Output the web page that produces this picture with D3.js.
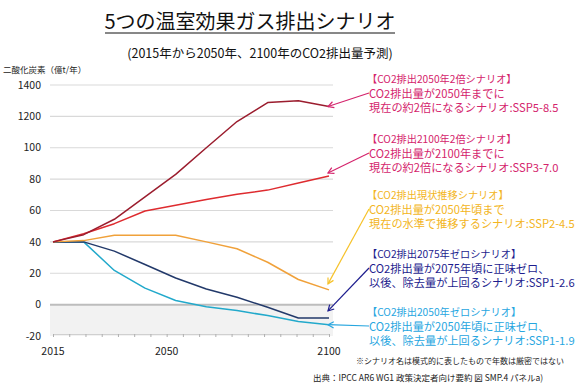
<!DOCTYPE html>
<html>
<head>
<meta charset="utf-8">
<script src="https://cdn.jsdelivr.net/npm/d3@7"></script>
<style>
  body { margin: 0; background: #fff; }
  text { font-family: "Noto Sans CJK JP", "Noto Sans", sans-serif; }
</style>
</head>
<body>
<div class="container"></div>
<script>
var width = 579;
var height = 385;

// data
var steps = ["2015", "2020", "2030", "2040", "2050", "2060", "2070", "2080", "2090", "2100"];
var ssp585 = [40, 44.6, 54.4, 68.7, 83, 100, 116.7, 128.8, 130, 126.3];
var ssp370 = [40, 45.2, 51.6, 59.7, 63.4, 67, 70.4, 73, 77.5, 82];
var ssp245 = [40, 40.8, 44.2, 44.2, 44.2, 40, 35.6, 27, 16, 9.4];
var ssp126 = [40, 40, 34.1, 25.6, 17, 10, 4.7, -1.7, -8.5, -8.5];
var ssp119 = [40, 40, 21.8, 10.5, 2.6, -1.3, -3.8, -7, -10.7, -12.8];

var yTicks = [-20, 0, 20, 40, 60, 80, 100, 120, 140];
var yTickLabels = ["-20", "0", "20", "40", "60", "80", "100", "1200", "1400"];
var xTicks = d3.range(2015, 2101, 5);
var xLabels = [2015, 2050, 2100];

var headers = ["【CO2排出2050年2倍シナリオ】", "【CO2排出2100年2倍シナリオ】", "【CO2排出現状推移シナリオ】",
  "【CO2排出2075年ゼロシナリオ】", "【CO2排出2050年ゼロシナリオ】"];
var lines2 = ["CO2排出量が2050年までに", "CO2排出量が2100年までに", "CO2排出量が2050年頃まで",
  "CO2排出量が2075年頃に正味ゼロ、", "CO2排出量が2050年頃に正味ゼロ、"];
var lines3 = ["現在の約2倍になるシナリオ:SSP5-8.5", "現在の約2倍になるシナリオ:SSP3-7.0", "現在の水準で推移するシナリオ:SSP2-4.5",
  "以後、除去量が上回るシナリオ:SSP1-2.6", "以後、除去量が上回るシナリオ:SSP1-1.9"];

var series = [ssp585, ssp370, ssp245, ssp126, ssp119];
var lineColors = ["#9b1d2e", "#de2b2f", "#f0a13a", "#22396a", "#22a9cb"];
var textColors = ["#d4246c", "#d4246c", "#f3b522", "#1d1d8e", "#27a6df"];
var arrowColors = ["#d4246c", "#d4246c", "#f6c22a", "#1d1d8e", "#27a6df"];

// layout
var plot = { left: 53, right: 329, top: 85, bottom: 336 };
var noteTop = [83, 143, 199, 258, 316];   // baseline of each note's first line
var tipShift = [0, -3, -6, -7, 0];        // arrow tip above the line end

var svg = d3.select(".container").append("svg")
  .attr("width", width)
  .attr("height", height);

var xYear = d3.scaleLinear().domain([2015, 2100]).range([plot.left, plot.right]);
var xStep = d3.scalePoint().domain(steps).range([plot.left, plot.right]);
var yScale = d3.scaleLinear().domain([-20, 140]).range([plot.bottom, plot.top]);

renderTitle();
renderGrid();
renderAxes();
renderLines();
renderNotes();

function renderTitle() {
  svg.append("text")
    .attr("x", 250)
    .attr("y", 29)
    .style("text-anchor", "middle")
    .style("font-size", "20px")
    .style("fill", "#111")
    .text("5つの温室効果ガス排出シナリオ");

  svg.append("line")
    .attr("x1", 105).attr("x2", 395)
    .attr("y1", 33).attr("y2", 33)
    .style("stroke", "#111")
    .style("stroke-width", 1);

  svg.append("text")
    .attr("x", 260)
    .attr("y", 58)
    .style("text-anchor", "middle")
    .style("font-size", "12.5px")
    .style("fill", "#111")
    .text("(2015年から2050年、2100年のCO2排出量予測)");
}

function renderGrid() {
  // shaded band below zero
  svg.append("rect")
    .attr("x", plot.left - 3)
    .attr("y", yScale(0))
    .attr("width", plot.right - plot.left + 7)
    .attr("height", yScale(-20) - yScale(0))
    .style("fill", "#f2f2f2");

  svg.selectAll("line.grid")
    .data(yTicks.filter(function (d) { return d > 0; }))
    .enter().append("line")
    .attr("class", "grid")
    .attr("x1", plot.left - 3)
    .attr("x2", plot.right + 4)
    .attr("y1", function (d) { return yScale(d); })
    .attr("y2", function (d) { return yScale(d); })
    .style("stroke", "#d9d9d9")
    .style("stroke-width", 1.2);

  svg.append("line")
    .attr("x1", plot.left - 3)
    .attr("x2", plot.right + 4)
    .attr("y1", yScale(0))
    .attr("y2", yScale(0))
    .style("stroke", "#bdbdbd")
    .style("stroke-width", 2);
}

function renderAxes() {
  svg.append("text")
    .attr("x", 3)
    .attr("y", 73)
    .style("font-size", "8.5px")
    .style("fill", "#222")
    .text("二酸化炭素（億t/年）");

  svg.selectAll("text.ylab")
    .data(yTicks)
    .enter().append("text")
    .attr("class", "ylab")
    .attr("x", 41)
    .attr("y", function (d) { return yScale(d); })
    .attr("dy", "0.35em")
    .style("text-anchor", "end")
    .style("font-size", "10.5px")
    .style("fill", "#222")
    .text(function (d, i) { return yTickLabels[i]; });

  var axisX = d3.axisBottom(xYear)
    .tickValues(xTicks)
    .tickSize(3)
    .tickFormat("");

  var gx = svg.append("g")
    .attr("transform", "translate(0," + (plot.bottom - 2) + ")")
    .call(axisX);
  gx.select(".domain").style("stroke", "#d0d0d0");
  gx.selectAll(".tick line").style("stroke", "#b0b0b0");

  svg.selectAll("text.xlab")
    .data(xLabels)
    .enter().append("text")
    .attr("class", "xlab")
    .attr("x", function (d) { return xYear(d); })
    .attr("y", 355)
    .style("text-anchor", "middle")
    .style("font-size", "10.5px")
    .style("fill", "#222")
    .text(function (d) { return d; });
}

function renderLines() {
  var line = d3.line()
    .x(function (d, i) { return xStep(steps[i]); })
    .y(function (d) { return yScale(d); });

  // draw lower scenarios first so reds sit on top
  [4, 3, 2, 1, 0].forEach(function (k) {
    svg.append("path")
      .datum(series[k])
      .attr("d", line)
      .style("fill", "none")
      .style("stroke", lineColors[k])
      .style("stroke-width", 1.5)
      .style("stroke-linejoin", "round");
  });
}

function renderNotes() {
  series.forEach(function (values, k) {
    var g = svg.append("g").style("fill", textColors[k]);
    var top = noteTop[k];

    g.append("text")
      .attr("x", 367)
      .attr("y", top)
      .style("font-size", "10.2px")
      .text(headers[k]);
    g.append("text")
      .attr("x", 369)
      .attr("y", top + 14.5)
      .style("font-size", "11.2px")
      .text(lines2[k]);
    g.append("text")
      .attr("x", 369)
      .attr("y", top + 29)
      .style("font-size", "11.2px")
      .text(lines3[k]);

    // arrow from text to the end of the line
    var x0 = 369, y0 = top + 10;
    var last = values.length - 1;
    var x1 = xStep(steps[last]) - 1, y1 = yScale(values[last]) + tipShift[k];
    var ang = Math.atan2(y0 - y1, x0 - x1);
    var len = 6.5, spread = 0.5;

    var arrow = svg.append("g")
      .style("stroke", arrowColors[k])
      .style("stroke-width", 1.2)
      .style("fill", "none");
    arrow.append("line")
      .attr("x1", x0).attr("y1", y0)
      .attr("x2", x1).attr("y2", y1);
    arrow.append("path")
      .attr("d", "M" + (x1 + len * Math.cos(ang - spread)) + "," + (y1 + len * Math.sin(ang - spread)) +
        "L" + x1 + "," + y1 +
        "L" + (x1 + len * Math.cos(ang + spread)) + "," + (y1 + len * Math.sin(ang + spread)));
  });

  svg.append("text")
    .attr("x", 356)
    .attr("y", 364)
    .style("font-size", "8px")
    .style("fill", "#222")
    .text("※シナリオ名は模式的に表したもので年数は厳密ではない");

  svg.append("text")
    .attr("x", 313)
    .attr("y", 381)
    .style("font-size", "8.5px")
    .style("fill", "#222")
    .text("出典：IPCC AR6 WG1 政策決定者向け要約 図 SMP.4 パネルa)");
}
</script>
</body>
</html>
